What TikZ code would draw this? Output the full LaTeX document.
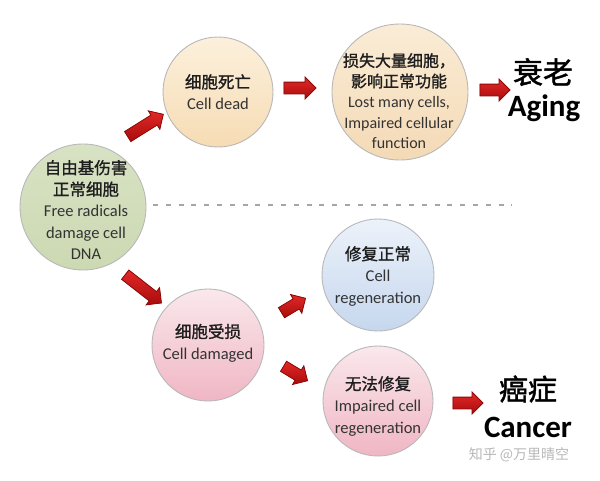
\documentclass[tikz,border=0pt]{standalone}
\usepackage{fontspec}
\setmainfont{Carlito}
\newfontfamily\cjk[FakeBold=1.3]{Noto Sans CJK SC}
\newfontfamily\cjkbig[FakeBold=1.5]{Noto Sans CJK SC}
\newfontfamily\cjkmark{Noto Sans CJK SC}
\usetikzlibrary{shapes.arrows}
\definecolor{txt}{HTML}{333333}
\definecolor{cjktxt}{HTML}{1E1E1E}
\definecolor{rim}{HTML}{B8B8B8}
\definecolor{arrred}{HTML}{E01010}
\definecolor{arrdark}{HTML}{8A0A0A}
\tikzset{
  cell/.style={circle, draw=rim, line width=0.9pt, inner sep=0pt},
  label/.style={align=center, text=txt, inner sep=0pt,
    font=\fontsize{16.5}{21.5}\selectfont},
  big/.style={align=center, text=black, inner sep=0pt},
  redarrow/.style={single arrow, fill=arrred, draw=arrdark, line width=0.8pt,
    single arrow head extend=5pt, inner sep=0pt, shading=axis,
    top color=arrred!90!white, bottom color=arrred!75!black, shading angle=0},
}
\newcommand{\cz}[1]{{\cjk\color{cjktxt}#1}}
\newcommand{\shaft}{\rule{0pt}{11pt}}
\begin{document}
\begin{tikzpicture}[x=1pt,y=-1pt]
\useasboundingbox (0,0) rectangle (600,480);
\fill[white] (0,0) rectangle (600,480);

% circles
\node[cell, minimum size=126pt, top color={rgb,255:red,216;green,226;blue,196}, bottom color={rgb,255:red,204;green,217;blue,178}] (free) at (83,207) {};
\node[cell, minimum size=110pt, top color={rgb,255:red,252;green,240;blue,220}, bottom color={rgb,255:red,246;green,220;blue,180}] (dead) at (218,92) {};
\node[cell, minimum size=136pt, top color={rgb,255:red,250;green,236;blue,214}, bottom color={rgb,255:red,244;green,218;blue,182}] (lost) at (400,92) {};
\node[cell, minimum size=112pt, top color={rgb,255:red,236;green,242;blue,250}, bottom color={rgb,255:red,198;green,215;blue,238}] (regen) at (378,275) {};
\node[cell, minimum size=112pt, top color={rgb,255:red,250;green,232;blue,236}, bottom color={rgb,255:red,240;green,182;blue,196}] (damaged) at (208,345) {};
\node[cell, minimum size=110pt, top color={rgb,255:red,250;green,232;blue,236}, bottom color={rgb,255:red,240;green,182;blue,196}] (impaired) at (378,401) {};

% texts
\node[label] (tfree) at (86,210) {\cz{自由基伤害}\\\cz{正常细胞}\\Free radicals\\damage cell\\DNA};
\node[label] (tdead) at (218,92) {\cz{细胞死亡}\\Cell dead};
\node[label, font=\fontsize{16}{20.5}\selectfont] (tlost) at (399,101) {\cz{损失大量细胞，}\\\cz{影响正常功能}\\Lost many cells,\\Impaired cellular\\function};
\node[label] (tregen) at (378,276) {\cz{修复正常}\\Cell\\regeneration};
\node[label] (tdamaged) at (208,343) {\cz{细胞受损}\\Cell damaged};
\node[label] (timpaired) at (378,406) {\cz{无法修复}\\Impaired cell\\regeneration};

\node[big, font=\cjkbig\fontsize{30}{32}\selectfont] (aging1) at (543,72) {衰老};
\node[big, font=\bfseries\fontsize{31}{33}\selectfont] (aging2) at (544,108) {Aging};
\node[big, font=\cjkbig\fontsize{29}{31}\selectfont] (cancer1) at (528,389) {癌症};
\node[big, font=\bfseries\fontsize{31}{33}\selectfont] (cancer2) at (528,427) {Cancer};
\node[big, text=black!28, font=\cjkmark\fontsize{14}{16}\selectfont] (mark) at (519,455) {知乎 @万里晴空};

% dashed divider
\coordinate (dl) at (153,205);
\coordinate (dr) at (512,205);
\draw[black!35, line width=1.5pt, dash pattern=on 5pt off 7.8pt] (dl) -- (dr);

% arrows
\node[redarrow, minimum height=42pt, minimum width=21pt, rotate=32] (a1) at (143,127) {\shaft};
\node[redarrow, minimum height=32pt, minimum width=21pt] (a2) at (297,88) {\shaft};
\node[redarrow, minimum height=30pt, minimum width=21pt] (a3) at (492,90) {\shaft};
\node[redarrow, minimum height=46pt, minimum width=21pt, rotate=-38] (a4) at (141,287) {\shaft};
\node[redarrow, minimum height=28pt, minimum width=20pt, rotate=31] (a5) at (291,307) {\shaft};
\node[redarrow, minimum height=28pt, minimum width=20pt, rotate=-31] (a6) at (293,372) {\shaft};
\node[redarrow, minimum height=30pt, minimum width=21pt] (a7) at (465,403) {\shaft};
\end{tikzpicture}
\end{document}
